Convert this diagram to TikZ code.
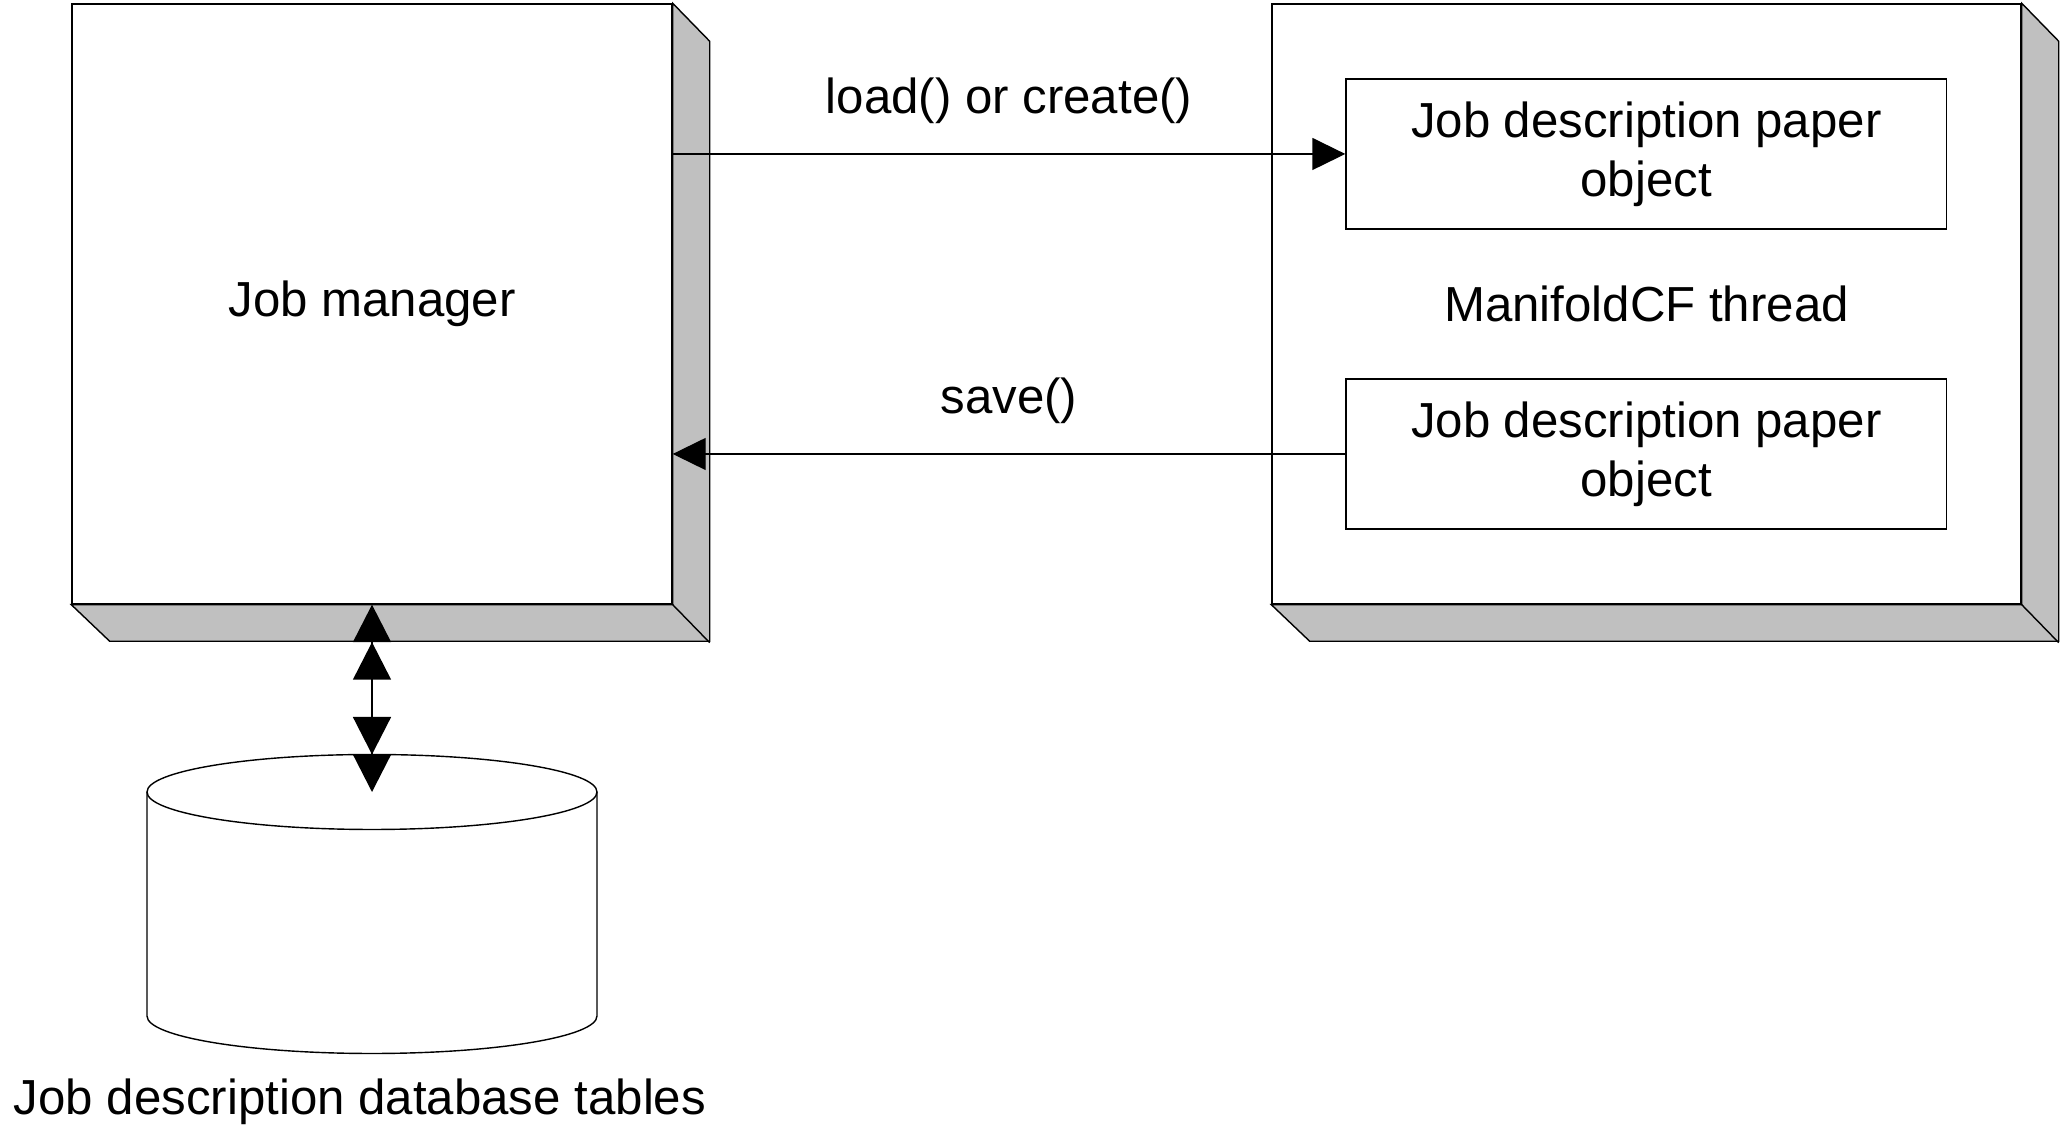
\documentclass[tikz,border=0pt]{standalone}
\usepackage{fontspec}
\setmainfont{Liberation Sans}
\usetikzlibrary{arrows.meta}
\definecolor{sidegray}{RGB}{192,192,192}

\begin{document}
\begin{tikzpicture}[>={Triangle[length=3.3mm, width=3.2mm]},
  font=\fontsize{14}{16.8}\selectfont, line width=0.4pt,
  box/.style={draw, fill=white, inner sep=0pt, align=center},
  side/.style={draw, fill=sidegray}]
\useasboundingbox (0,0) rectangle (20.62,11.47);
% front faces
\node[box, minimum width=6cm, minimum height=6cm] (jm) at (3.72,8.43) {Job manager};
\node[box, minimum width=7.49cm, minimum height=6cm] (thread) at (16.465,8.43) {ManifoldCF thread};
\node[box, minimum width=6.005cm, minimum height=1.5cm] (obj1) at (16.4625,9.93) {Job description paper\\object};
\node[box, minimum width=6.005cm, minimum height=1.5cm] (obj2) at (16.4625,6.93) {Job description paper\\object};
% depth of the two boxes
\draw[side] (jm.south west) -- (jm.south east) -- (jm.north east) -- ++(0.37,-0.38) -- ++(0,-6) -- ++(-6,0) -- cycle;
\draw (jm.south east) -- ++(0.37,-0.38);
\draw[side] (thread.south west) -- (thread.south east) -- (thread.north east) -- ++(0.37,-0.38) -- ++(0,-6) -- ++(-7.49,0) -- cycle;
\draw (thread.south east) -- ++(0.37,-0.38);
% database
\coordinate (dbtop) at (3.72,3.55);
\draw[fill=white] (1.47,3.55) -- (1.47,1.31) arc[start angle=180, end angle=360, x radius=2.25, y radius=0.375] -- (5.97,3.55);
\draw (dbtop) ellipse[x radius=2.25, y radius=0.375];
\node[anchor=base] (dbname) at (3.60,0.32) {Job description database tables};
% calls
\draw[->] (jm.east |- obj1.west) -- node[above=1.8mm] {load() or create()} (obj1.west);
\draw[->] (obj2.west) -- node[above=1.8mm] {save()} (jm.east |- obj2.west);
\draw[{Triangle[length=3.75mm, width=3.8mm]Triangle[length=3.75mm, width=3.8mm]}-{Triangle[length=3.75mm, width=3.8mm]Triangle[length=3.75mm, width=3.8mm]}] (jm.south) -- (dbtop);
\end{tikzpicture}
\end{document}
